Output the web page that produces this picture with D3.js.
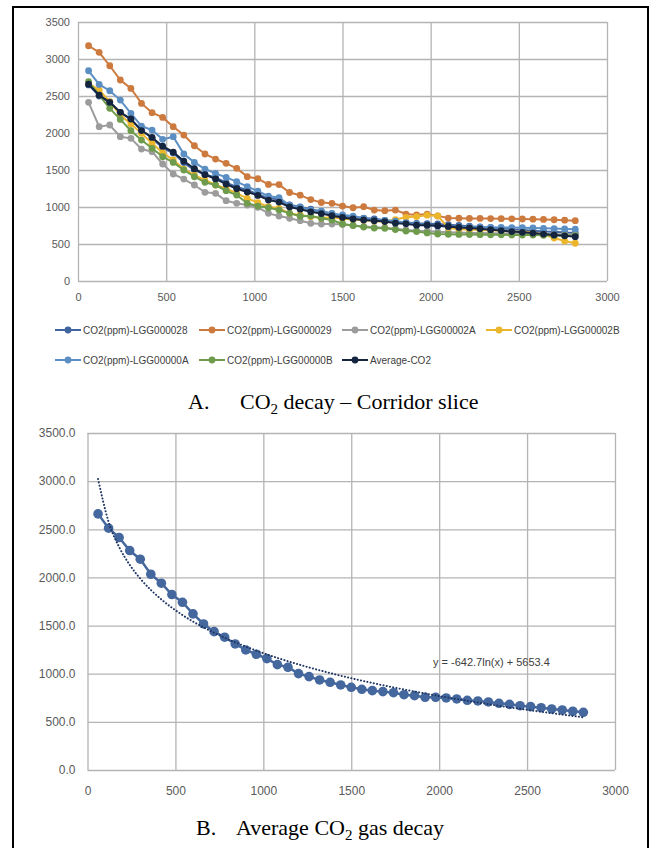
<!DOCTYPE html>
<html>
<head>
<meta charset="utf-8">
<script src="https://cdn.jsdelivr.net/npm/d3@7"></script>
<style>
  body { margin: 0; background: #fff; }
  svg text { font-family: "Liberation Sans", Arial, sans-serif; }
</style>
</head>
<body>
<div id="fig"></div>
<script>
// ---- data ----
const timeSec = [60, 120, 180, 240, 300, 360, 420, 480, 540, 600,
  660, 720, 780, 840, 900, 960, 1020, 1080, 1140, 1200,
  1260, 1320, 1380, 1440, 1500, 1560, 1620, 1680, 1740, 1800,
  1860, 1920, 1980, 2040, 2100, 2160, 2220, 2280, 2340, 2400,
  2460, 2520, 2580, 2640, 2700, 2760, 2820];

const co2_028 = [2650, 2500, 2420, 2280, 2180, 2040, 1930, 1800, 1730, 1600,
  1500, 1440, 1400, 1330, 1270, 1230, 1170, 1120, 1100, 1030,
  1000, 970, 940, 910, 880, 860, 850, 840, 820, 800,
  790, 780, 775, 770, 760, 750, 740, 730, 720, 710,
  700, 690, 680, 670, 665, 655, 650];

const co2_029 = [3179, 3090, 2909, 2716, 2603, 2400, 2274, 2211, 2085, 1972,
  1828, 1716, 1648, 1590, 1522, 1410, 1382, 1305, 1303, 1196,
  1160, 1100, 1061, 1050, 1013, 990, 1004, 959, 950, 959,
  905, 892, 905, 880, 850, 848, 846, 845, 843, 842,
  840, 838, 835, 832, 828, 822, 815];

const co2_02A = [2414, 2085, 2108, 1950, 1928, 1783, 1747, 1581, 1446, 1378,
  1297, 1198, 1185, 1085, 1050, 1027, 996, 914, 878, 847,
  815, 780, 770, 770, 765, 750, 735, 725, 720, 705,
  690, 680, 675, 665, 660, 655, 650, 648, 645, 642,
  640, 638, 636, 634, 632, 630, 628];

const co2_02B = [2670, 2580, 2423, 2243, 2121, 1995, 1860, 1734, 1635, 1513,
  1432, 1364, 1297, 1252, 1185, 1117, 1058, 1004, 982, 914,
  892, 869, 851, 860, 840, 830, 820, 810, 800, 830,
  860, 870, 890, 880, 720, 700, 695, 690, 685, 680,
  670, 665, 655, 630, 580, 540, 510];

const co2_00A = [2841, 2657, 2571, 2445, 2265, 2094, 2040, 1914, 1950, 1716,
  1603, 1513, 1455, 1401, 1342, 1275, 1215, 1145, 1128, 1020,
  998, 959, 945, 914, 892, 878, 847, 824, 820, 810,
  788, 770, 757, 743, 735, 732, 730, 728, 726, 724,
  722, 720, 716, 712, 708, 704, 700];

const co2_00B = [2693, 2513, 2333, 2184, 2031, 1905, 1793, 1679, 1603, 1500,
  1409, 1333, 1297, 1220, 1162, 1050, 1013, 990, 959, 914,
  875, 880, 847, 824, 770, 750, 730, 715, 712, 695,
  675, 668, 650, 635, 632, 630, 628, 626, 625, 624,
  622, 620, 620, 618, 616, 614, 612];

const avgCO2 = [2660, 2511, 2414, 2279, 2189, 2033, 1940, 1822, 1742, 1621,
  1517, 1437, 1379, 1309, 1247, 1202, 1157, 1094, 1067, 1001,
  970, 935, 911, 883, 859, 838, 824, 814, 803, 782,
  772, 755, 755, 748, 738, 724, 717, 707, 693, 682,
  668, 658, 647, 634, 623, 610, 599];

const seriesNames = ["CO2(ppm)-LGG000028", "CO2(ppm)-LGG000029", "CO2(ppm)-LGG00002A",
  "CO2(ppm)-LGG00002B", "CO2(ppm)-LGG00000A", "CO2(ppm)-LGG00000B", "Average-CO2"];
const seriesColors = ["#3f64a0", "#cd7a3f", "#9c9c9c", "#ebb52c", "#5b8fc4", "#6f9c4c", "#16253f"];

const xTicks = [0, 500, 1000, 1500, 2000, 2500, 3000];
const yTicks = [0, 500, 1000, 1500, 2000, 2500, 3000, 3500];

// trend line shown on chart B: y = a*ln(x) + b
const trendA = -642.7, trendB = 5653.4;

// ---- drawing ----
const W = 656, H = 848;
const svg = d3.select("#fig").append("svg").attr("width", W).attr("height", H);
svg.append("rect").attr("width", W).attr("height", H).attr("fill", "#fff");
svg.append("rect").attr("x", 13).attr("y", 7).attr("width", 635).attr("height", 870)
  .attr("fill", "none").attr("stroke", "#000").attr("stroke-width", 2);

function styleAxis(g, fs) {
  g.select(".domain").remove();
  g.selectAll("line").attr("stroke", "#b4b4b4").attr("stroke-width", 1.3);
  g.selectAll("text").attr("fill", "#595959").style("font-size", fs + "px");
}

// chart A
const xA = d3.scaleLinear().domain([0, 3000]).range([78, 607]);
const yA = d3.scaleLinear().domain([0, 3500]).range([281, 22]);

svg.append("g").attr("transform", "translate(78,0)")
  .call(d3.axisLeft(yA).tickValues(yTicks).tickSize(-(607 - 78)).tickPadding(8).tickFormat(d3.format("d")))
  .call(g => styleAxis(g, 11));
svg.append("g").attr("transform", "translate(0,281)")
  .call(d3.axisBottom(xA).tickValues(xTicks).tickSize(-(281 - 22)).tickPadding(12).tickFormat(d3.format("d")))
  .call(g => styleAxis(g, 11));

const allSeries = [co2_028, co2_029, co2_02A, co2_02B, co2_00A, co2_00B, avgCO2];
const lineA = d3.line().x((d, i) => xA(timeSec[i])).y(d => yA(d));

allSeries.forEach((s, k) => {
  const g = svg.append("g");
  g.append("path").datum(s).attr("d", lineA).attr("fill", "none")
    .attr("stroke", seriesColors[k]).attr("stroke-width", 2);
  g.selectAll("circle").data(s).join("circle")
    .attr("cx", (d, i) => xA(timeSec[i])).attr("cy", d => yA(d)).attr("r", 3.4)
    .attr("fill", seriesColors[k]);
});

// legend
const legX = [55, 199, 342, 486], legY = [330, 360];
seriesNames.forEach((name, k) => {
  const x = legX[k % 4], y = legY[Math.floor(k / 4)];
  const g = svg.append("g").attr("transform", `translate(${x},${y})`);
  g.append("line").attr("x1", 0).attr("x2", 26).attr("stroke", seriesColors[k]).attr("stroke-width", 2);
  g.append("circle").attr("cx", 13).attr("r", 3.4).attr("fill", seriesColors[k]);
  g.append("text").attr("x", 28).attr("dy", "0.35em").attr("fill", "#404040")
    .style("font-size", "10px").text(name);
});

// captions
function caption(letter, lx, tx, y, before, after) {
  const t = svg.append("text").attr("y", y).attr("fill", "#000")
    .style("font-family", "'Liberation Serif', 'Times New Roman', serif").style("font-size", "22px");
  t.append("tspan").attr("x", lx).text(letter);
  t.append("tspan").attr("x", tx).text(before + "CO");
  t.append("tspan").attr("dy", 5).style("font-size", "15px").text("2");
  t.append("tspan").attr("dy", -5).text(after);
}
caption("A.", 188, 240, 409, "", " decay \u2013 Corridor slice");

// chart B
const xB = d3.scaleLinear().domain([0, 3000]).range([87.5, 615]);
const yB = d3.scaleLinear().domain([0, 3500]).range([770, 433]);

svg.append("g").attr("transform", "translate(87.5,0)")
  .call(d3.axisLeft(yB).tickValues(yTicks).tickSize(-(615 - 87.5)).tickPadding(12).tickFormat(d3.format(".1f")))
  .call(g => styleAxis(g, 12));
svg.append("g").attr("transform", "translate(0,770)")
  .call(d3.axisBottom(xB).tickValues(xTicks).tickSize(-(770 - 433)).tickPadding(16).tickFormat(d3.format("d")))
  .call(g => styleAxis(g, 12));

const lineB = d3.line().x((d, i) => xB(timeSec[i])).y(d => yB(d));
svg.append("path").datum(avgCO2).attr("d", lineB).attr("fill", "none")
  .attr("stroke", "#44679e").attr("stroke-width", 2.5);
svg.append("g").selectAll("circle").data(avgCO2).join("circle")
  .attr("cx", (d, i) => xB(timeSec[i])).attr("cy", d => yB(d)).attr("r", 4.8)
  .attr("fill", "#44679e");

const trend = d3.line().curve(d3.curveMonotoneX)
  .x(t => xB(t)).y(t => yB(trendA * Math.log(t) + trendB));
svg.append("path").datum(timeSec).attr("d", trend).attr("fill", "none")
  .attr("stroke", "#1f3563").attr("stroke-width", 2)
  .attr("stroke-linecap", "round").attr("stroke-dasharray", "0.1 3.2");

svg.append("text").attr("x", 433).attr("y", 666).attr("fill", "#404040")
  .style("font-size", "11px").text("y = -642.7ln(x) + 5653.4");

caption("B.", 196, 236, 835, "Average ", " gas decay");
</script>
</body>
</html>
